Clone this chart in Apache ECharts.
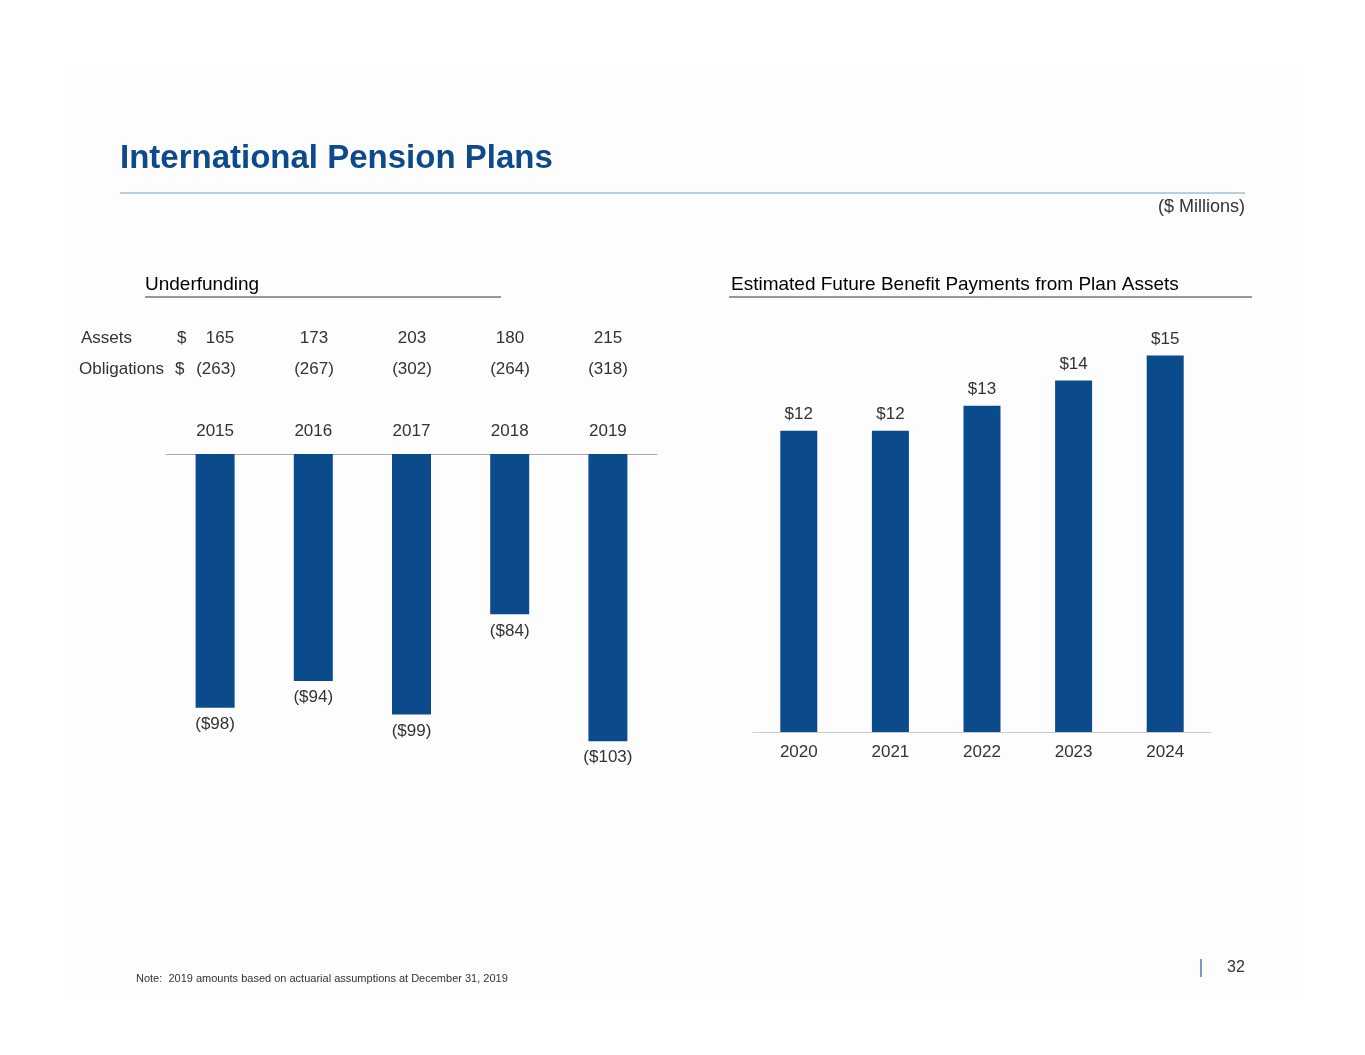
<!DOCTYPE html>
<html><head><meta charset="utf-8">
<script src="https://cdn.jsdelivr.net/npm/echarts@6/dist/echarts.min.js"></script>
<style>html,body{margin:0;padding:0;background:#fff}#c{width:1365px;height:1055px}</style>
</head><body><div id="c"></div>
<script>
const years = ['2015','2016','2017','2018','2019'];
const underfunding = [-98,-94,-99,-84,-103];
const assets = ['165','173','203','180','215'];
const obligations = ['(263)','(267)','(302)','(264)','(318)'];
const futureYears = ['2020','2021','2022','2023','2024'];
const payments = [12,12,13,14,15];

const F = 'Liberation Sans, Arial, sans-serif';
const blue = '#0b4a8b';
const txt = '#333333';
const chart = echarts.init(document.getElementById('c'));
const centers = [216,314,412,510,608];
const g = [
  {type:'rect',shape:{x:65,y:65,width:1238,height:935},style:{fill:'#fdfdfd'},z:-10},
  {type:'text',left:120,top:142,style:{text:'International Pension Plans',font:'bold 33px '+F,fill:'#0d4a8c'}},
  {type:'line',shape:{x1:120,y1:193,x2:1245,y2:193},style:{stroke:'#7a9cc4',lineWidth:1}},
  {type:'text',x:1245,y:198,style:{text:'($ Millions)',font:'18px '+F,fill:txt,textAlign:'right'}},
  {type:'text',x:145,y:275,style:{text:'Underfunding',font:'19px '+F,fill:'#000'}},
  {type:'line',shape:{x1:145,y1:297,x2:501,y2:297},style:{stroke:'#333',lineWidth:1}},
  {type:'text',x:731,y:275,style:{text:'Estimated Future Benefit Payments from Plan Assets',font:'19px '+F,fill:'#000'}},
  {type:'line',shape:{x1:729,y1:297,x2:1252,y2:297},style:{stroke:'#333',lineWidth:1}},
  {type:'text',x:81,y:330,style:{text:'Assets',font:'17px '+F,fill:txt}},
  {type:'text',x:79,y:361,style:{text:'Obligations',font:'17px '+F,fill:txt}},
  {type:'text',x:177,y:330,style:{text:'$',font:'17px '+F,fill:txt}},
  {type:'text',x:175,y:361,style:{text:'$',font:'17px '+F,fill:txt}},
  {type:'text',x:136,y:973,style:{text:'Note:  2019 amounts based on actuarial assumptions at December 31, 2019',font:'11px '+F,fill:txt}},
  {type:'line',shape:{x1:1201,y1:959,x2:1201,y2:977},style:{stroke:'#7a9cc4',lineWidth:2}},
  {type:'text',x:1227,y:960,style:{text:'32',font:'16px '+F,fill:txt}}
];
years.forEach((y,i)=>{
  g.push({type:'text',x:centers[i]+(i===0?4:0),y:330,style:{text:assets[i],font:'17px '+F,fill:txt,textAlign:'center'}});
  g.push({type:'text',x:centers[i],y:361,style:{text:obligations[i],font:'17px '+F,fill:txt,textAlign:'center'}});
});
chart.setOption({
  animation:false,
  graphic:g,
  grid:[
    {left:166,width:491,top:454,height:334},
    {left:753,width:458,top:355.5,height:376.5}
  ],
  xAxis:[
    {gridIndex:0,type:'category',data:years,position:'top',
     axisLine:{lineStyle:{color:'#aaa'}},axisTick:{inside:true,length:5,lineStyle:{color:'#aaa'}},
     axisLabel:{color:txt,fontSize:17,fontFamily:F,margin:14}},
    {gridIndex:1,type:'category',data:futureYears,
     axisLine:{lineStyle:{color:'#ccc'}},axisTick:{length:5,lineStyle:{color:'#ccc'}},
     axisLabel:{color:txt,fontSize:17,fontFamily:F,margin:12}}
  ],
  yAxis:[
    {gridIndex:0,type:'value',min:-110,max:-60,show:false},
    {gridIndex:1,type:'value',min:0,max:15,show:false}
  ],
  series:[
    {type:'bar',xAxisIndex:0,yAxisIndex:0,data:underfunding,barWidth:39,itemStyle:{color:blue},
     label:{show:true,position:'bottom',distance:8,color:txt,fontSize:17,fontFamily:F,formatter:p=>'($'+(-p.value)+')'}},
    {type:'bar',xAxisIndex:1,yAxisIndex:1,data:payments,barWidth:37,itemStyle:{color:blue},
     label:{show:true,position:'top',distance:8,color:txt,fontSize:17,fontFamily:F,formatter:p=>'$'+p.value}}
  ]
});
</script></body></html>
